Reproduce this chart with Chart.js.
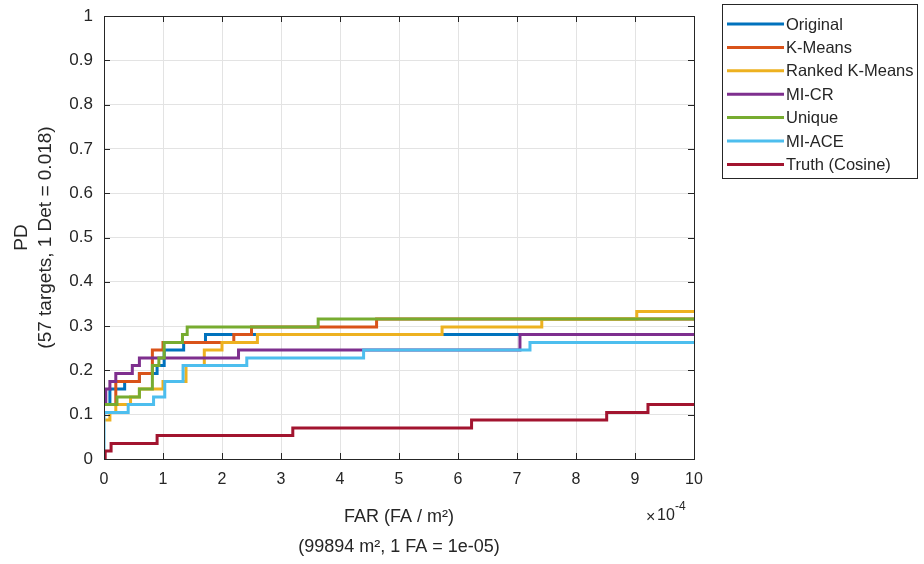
<!DOCTYPE html>
<html>
<head>
<meta charset="utf-8">
<script src="https://cdn.jsdelivr.net/npm/chart.js@4"></script>
<style>
  body { margin: 0; background: #fff; }
  canvas { display: block; }
</style>
</head>
<body>
<canvas id="rocChart" width="924" height="564"></canvas>
<script>
// series names, in plotting order
const seriesNames = ['Original', 'K-Means', 'Ranked K-Means', 'MI-CR', 'Unique', 'MI-ACE', 'Truth (Cosine)'];
const seriesColors = ['#0072BD', '#D95319', '#EDB120', '#7E2F8E', '#77AC30', '#4DBEEE', '#A2142F'];

// FAR in units of 1e-4 FA/m^2, PD
const originalFar = [0, 0.1, 0.35, 0.6, 0.9, 1.02, 1.35, 1.72, 10];
const originalPd  = [0.123, 0.158, 0.175, 0.193, 0.211, 0.246, 0.263, 0.281, 0.281];

const kmeansFar = [0, 0.2, 0.6, 0.82, 1.0, 2.2, 2.5, 4.62, 10];
const kmeansPd  = [0.123, 0.175, 0.193, 0.246, 0.263, 0.281, 0.298, 0.316, 0.316];

const rankedFar = [0, 0.1, 0.2, 0.45, 0.6, 1.0, 1.39, 1.7, 2.0, 2.6, 5.73, 7.42, 9.03, 10];
const rankedPd  = [0.088, 0.105, 0.123, 0.14, 0.158, 0.175, 0.211, 0.246, 0.263, 0.281, 0.298, 0.316, 0.333, 0.333];

const micrFar = [0, 0.03, 0.1, 0.2, 0.48, 0.6, 2.28, 7.05, 10];
const micrPd  = [0.123, 0.158, 0.175, 0.193, 0.211, 0.228, 0.246, 0.281, 0.281];

const uniqueFar = [0, 0.22, 0.6, 0.82, 0.93, 1.02, 1.33, 1.41, 3.63, 10];
const uniquePd  = [0.123, 0.14, 0.158, 0.211, 0.228, 0.263, 0.281, 0.298, 0.316, 0.316];

const miaceFar = [0, 0, 0.41, 0.84, 1.03, 1.34, 2.42, 4.4, 7.22, 10];
const miacePd  = [0, 0.105, 0.123, 0.14, 0.175, 0.211, 0.228, 0.246, 0.263, 0.263];

const truthFar = [0, 0.02, 0.12, 0.9, 3.2, 6.23, 8.52, 9.22, 10];
const truthPd  = [0, 0.018, 0.035, 0.053, 0.07, 0.088, 0.105, 0.123, 0.123];

const xTicks = [0, 1, 2, 3, 4, 5, 6, 7, 8, 9, 10];
const yTicks = [0, 0.1, 0.2, 0.3, 0.4, 0.5, 0.6, 0.7, 0.8, 0.9, 1];

const allFar = [originalFar, kmeansFar, rankedFar, micrFar, uniqueFar, miaceFar, truthFar];
const allPd = [originalPd, kmeansPd, rankedPd, micrPd, uniquePd, miacePd, truthPd];

const FONT = "'Liberation Sans', Arial, Helvetica, sans-serif";
const INK = '#262626';

function toPoints(xs, ys) {
  return xs.map((x, i) => ({ x: x, y: ys[i] }));
}

const datasets = seriesNames.map((name, i) => ({
  label: name,
  data: toPoints(allFar[i], allPd[i]),
  borderColor: seriesColors[i],
  backgroundColor: seriesColors[i],
  borderWidth: 3,
  pointRadius: 0,
  stepped: 'before',   // hold the old PD until the next FAR, then jump
  fill: false,
  order: seriesNames.length - i   // later series drawn on top, like matlab
}));

// box, inward ticks, legend and the x10^-4 multiplier
const matlabFrame = {
  id: 'matlabFrame',
  afterDraw(chart) {
    const ctx = chart.ctx;
    const a = chart.chartArea;
    const xs = chart.scales.x, ys = chart.scales.y;
    ctx.save();
    ctx.strokeStyle = INK;
    ctx.lineWidth = 1;
    ctx.strokeRect(Math.round(a.left) + 0.5, Math.round(a.top) + 0.5,
                   Math.round(a.right - a.left), Math.round(a.bottom - a.top));
    ctx.beginPath();
    xTicks.forEach(v => {
      const px = Math.round(xs.getPixelForValue(v)) + 0.5;
      ctx.moveTo(px, a.bottom); ctx.lineTo(px, a.bottom - 6);
      ctx.moveTo(px, a.top); ctx.lineTo(px, a.top + 6);
    });
    yTicks.forEach(v => {
      const py = Math.round(ys.getPixelForValue(v)) + 0.5;
      ctx.moveTo(a.left, py); ctx.lineTo(a.left + 6, py);
      ctx.moveTo(a.right, py); ctx.lineTo(a.right - 6, py);
    });
    ctx.stroke();

    // multiplier
    ctx.fillStyle = INK;
    ctx.textBaseline = 'middle';
    ctx.textAlign = 'left';
    ctx.font = '16px ' + FONT;
    ctx.fillText('\u00d7', 646, 518);
    ctx.fillText('10', 657, 516);
    ctx.font = '12px ' + FONT;
    ctx.fillText('-4', 675, 507);

    // legend
    const lx = 722.5, ly = 4.5, lw = 195, lh = 174;
    ctx.fillStyle = '#fff';
    ctx.fillRect(lx, ly, lw, lh);
    ctx.strokeStyle = INK;
    ctx.strokeRect(lx, ly, lw, lh);
    ctx.font = '16.5px ' + FONT;
    chart.data.datasets.forEach((ds, i) => {
      const y = 24 + i * 23.4;
      ctx.strokeStyle = ds.borderColor;
      ctx.lineWidth = 3;
      ctx.beginPath();
      ctx.moveTo(727, y); ctx.lineTo(784, y);
      ctx.stroke();
      ctx.fillStyle = INK;
      ctx.fillText(ds.label, 786, y + 1);
    });
    ctx.restore();
  }
};

new Chart(document.getElementById('rocChart').getContext('2d'), {
  type: 'line',
  data: { datasets: datasets },
  options: {
    responsive: false,
    animation: false,
    layout: { padding: { top: 16, right: 230, left: 0, bottom: 0 } },
    plugins: {
      legend: { display: false },
      tooltip: { enabled: false }
    },
    scales: {
      x: {
        type: 'linear',
        min: 0,
        max: 10,
        afterBuildTicks: s => { s.ticks = xTicks.map(v => ({ value: v })); },
        afterFit: s => { s.height = 105; s.paddingLeft = 0; s.paddingRight = 0; },
        grid: { color: '#e3e3e3', drawTicks: false },
        border: { display: false },
        ticks: { color: INK, font: { family: FONT, size: 16 }, padding: 11, maxRotation: 0 },
        title: {
          display: true,
          text: ['FAR (FA / m\u00b2)', '(99894 m\u00b2, 1 FA = 1e-05)'],
          color: INK,
          font: { family: FONT, size: 18, lineHeight: 1.72 },
          padding: { top: 0, bottom: 1 }
        }
      },
      y: {
        type: 'linear',
        min: 0,
        max: 1,
        afterBuildTicks: s => { s.ticks = yTicks.map(v => ({ value: v })); },
        afterFit: s => { s.width = 104; s.paddingTop = 0; s.paddingBottom = 0; },
        grid: { color: '#e3e3e3', drawTicks: false },
        border: { display: false },
        ticks: {
          color: INK,
          font: { family: FONT, size: 17 },
          padding: 11,
          callback: v => String(Math.round(v * 10) / 10)
        },
        title: {
          display: true,
          text: ['PD', '(57 targets, 1 Det = 0.018)'],
          color: INK,
          font: { family: FONT, size: 19, lineHeight: 1.25 },
          padding: { top: 10, bottom: 0 }
        }
      }
    }
  },
  plugins: [matlabFrame]
});
</script>
</body>
</html>
